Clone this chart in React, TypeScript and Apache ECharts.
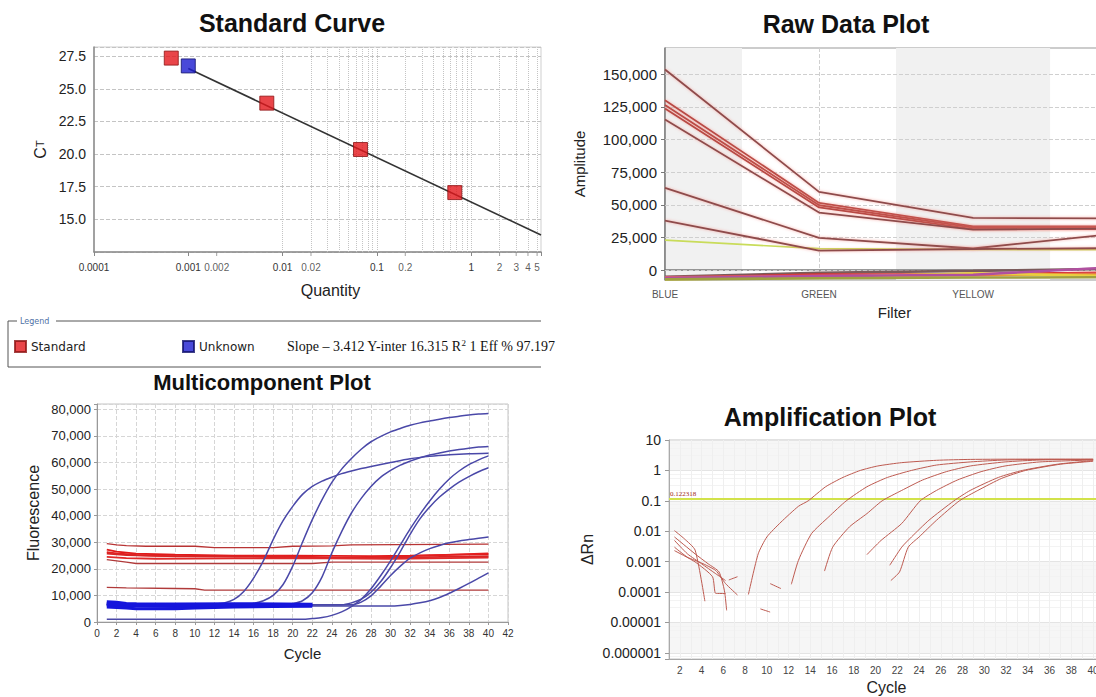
import React, { useEffect, useRef } from 'react';
import * as echarts from 'echarts';

const SANS = "'Liberation Sans', Arial, sans-serif";

// ---------- Standard Curve ----------
const STD_QUANTITY = [0.00066, 0.0068, 0.067, 0.67];
const STD_CT = [27.35, 23.9, 20.35, 17.05];
const UNK_QUANTITY = [0.001];
const UNK_CT = [26.75];
const FIT_QUANTITY = [0.001, 5.5];
const FIT_CT = [26.55, 13.8];
const CT_TICKS = [15, 17.5, 20, 22.5, 25, 27.5];
const QTY_DECADE_TICKS = [0.0001, 0.001, 0.01, 0.1, 1];
const QTY_DECADE_LABELS = ['0.0001', '0.001', '0.01', '0.1', '1'];
const QTY_EXTRA_TICKS = [0.002, 0.02, 0.2, 2, 3, 4, 5];
const QTY_EXTRA_LABELS = ['0.002', '0.02', '0.2', '2', '3', '4', '5'];
const QTY_GRID_MULTIPLIERS = [1, 2, 3, 4, 5, 6, 7, 8, 9];
const STAT_SLOPE = '– 3.412';
const STAT_YINTER = '16.315';
const STAT_R2 = '1';
const STAT_EFF = '97.197';

// ---------- Raw Data Plot ----------
const FILTERS = ['BLUE', 'GREEN', 'YELLOW'];
const RAW_X = [0, 1, 2, 2.85];
const RAW_Y_TICKS = [0, 25000, 50000, 75000, 100000, 125000, 150000];
const RAW_MAIN = [
  [153600, 59900, 40000, 39600],
  [130000, 51500, 33500, 33500],
  [126300, 49700, 32600, 32500],
  [123700, 48000, 31400, 31400],
  [115300, 44100, 31000, 31800],
  [63000, 24700, 16600, 27000],
  [38000, 15000, 16200, 16800],
];
const RAW_YELLOWGREEN = [23000, 16500, 15800, 15600];
const RAW_LOW = [
  [-5000, -2000, -500, 1000],
  [-6000, -3300, -3200, -2000],
  [-5500, -4200, -3800, -2600],
  [-6500, -5000, -3000, -3500],
  [-6800, -5600, -2400, -4400],
  [-6000, -4500, -3500, 1800],
  [-7000, -6200, -5600, -5400],
];
const RAW_LOW_COLORS = ['#7a5a5a', '#d83030', '#e06060', '#e89030', '#e8d040', '#b050a0', '#a0a040'];

// ---------- Multicomponent Plot ----------
const MC_X_TICKS_MAX = 42;
const ROX_WELLS = [
  [[1, 29500], [2, 29000], [3, 28700], [5, 28500], [10, 28500], [12, 28000], [18, 28000], [20, 28500], [24, 28600], [26, 29000], [40, 29300]],
  [[1, 27200], [2, 26500], [4, 25700], [8, 25300], [14, 25000], [20, 25000], [28, 24800], [32, 25000], [40, 25500]],
  [[1, 26300], [2, 25800], [4, 25200], [8, 24700], [14, 24600], [18, 24900], [22, 24500], [24, 24200], [27, 24300], [32, 24800], [40, 25800]],
  [[1, 25700], [3, 25200], [6, 24900], [12, 24700], [18, 24400], [22, 24200], [28, 24000], [32, 24300], [40, 24800]],
  [[1, 24500], [3, 24000], [6, 23800], [14, 23900], [20, 24000], [30, 23800], [40, 24200]],
  [[1, 23500], [2, 23000], [3, 22500], [4, 22000], [12, 22000], [22, 22000], [24, 22500], [40, 22500]],
  [[1, 13000], [3, 12800], [8, 12600], [10, 12500], [11, 12000], [40, 12000]],
];
const ROX_COLORS = ['#b83434', '#e01a1a', '#e42020', '#d82424', '#e02a2a', '#b03a3a', '#b03a3a'];
const FAM_CURVES = [
  [[1, 7000], [5, 6700], [10, 6600], [12, 6800], [13, 7200], [14, 8500], [15, 11500], [16, 16500], [17, 23000], [18, 31000], [19, 38000], [20, 43500], [21, 48000], [22, 51000], [23, 53000], [24, 54500], [25, 55800], [26, 56800], [27, 57700], [28, 58500], [30, 60000], [32, 61400], [34, 62300], [36, 62900], [38, 63300], [40, 63500]],
  [[1, 6800], [8, 6500], [15, 6600], [16, 7000], [17, 8000], [18, 10000], [19, 14000], [20, 21000], [21, 30000], [22, 38500], [23, 46000], [24, 52500], [25, 57500], [26, 61500], [27, 65000], [28, 67800], [29, 69800], [30, 71500], [31, 72800], [32, 74000], [33, 74900], [34, 75600], [35, 76300], [36, 76900], [37, 77400], [38, 77900], [39, 78200], [40, 78400]],
  [[1, 6500], [10, 6300], [19, 6400], [20, 6900], [21, 8000], [22, 11000], [23, 17000], [24, 26000], [25, 34000], [26, 41000], [27, 46500], [28, 51000], [29, 54500], [30, 57000], [31, 59000], [32, 60500], [33, 61800], [34, 62800], [35, 63600], [36, 64300], [37, 64900], [38, 65400], [39, 65800], [40, 66000]],
  [[1, 1000], [21, 1000], [22, 1300], [23, 1700], [24, 2500], [25, 3800], [26, 5800], [27, 8500], [28, 12500], [29, 17500], [30, 23000], [31, 29000], [32, 35000], [33, 40500], [34, 45500], [35, 50000], [36, 53800], [37, 56800], [38, 59200], [39, 61000], [40, 62500]],
  [[1, 6600], [12, 6400], [25, 6500], [26, 7200], [27, 8600], [28, 11200], [29, 15200], [30, 20500], [31, 26500], [32, 33000], [33, 38800], [34, 43300], [35, 47000], [36, 50000], [37, 52600], [38, 54700], [39, 56500], [40, 58000]],
  [[1, 6500], [26, 6500], [27, 7500], [28, 9800], [29, 13500], [30, 17500], [31, 21000], [32, 24000], [33, 26000], [34, 27600], [35, 28800], [36, 29800], [37, 30500], [38, 31000], [39, 31500], [40, 32000]],
  [[1, 6200], [30, 6000], [31, 6200], [32, 6600], [33, 7200], [34, 8000], [35, 9200], [36, 10800], [37, 12600], [38, 14500], [39, 16500], [40, 18500]],
];
const FAM_BASELINE_BAND = [
  [[1, 7600], [2, 7400], [3, 7000], [4, 6900], [8, 6800], [14, 6900], [22, 6700]],
  [[1, 5600], [3, 5300], [4, 5000], [8, 5000], [10, 5300], [14, 5600], [18, 5800], [22, 5900]],
  [[1, 6400], [4, 6000], [8, 5800], [12, 6100], [18, 6200], [22, 6300]],
  [[1, 7000], [4, 6400], [10, 6300], [16, 6500], [22, 6500]],
];

// ---------- Amplification Plot ----------
const AMP_Y_TICKS = [10, 1, 0.1, 0.01, 0.001, 0.0001, 0.00001, 0.000001];
const AMP_Y_LABELS = ['10', '1', '0.1', '0.01', '0.001', '0.0001', '0.00001', '0.000001'];
const AMP_THRESHOLD = 0.122318;
const AMP_CURVES = [
  [[8.3, 0.000083], [9.2, 0.0018], [10, 0.0065], [11.3, 0.02], [12.9, 0.066], [13.8, 0.1], [15.4, 0.29], [17, 0.59], [18.6, 1.0], [20.2, 1.4], [22.4, 1.8], [25.6, 2.15], [28.7, 2.3], [34, 2.35], [40, 2.35]],
  [[12.25, 0.00018], [12.9, 0.0011], [14.1, 0.0083], [15.7, 0.03], [17.3, 0.1], [19.2, 0.29], [21.1, 0.59], [23.3, 1.0], [25.6, 1.5], [28.7, 1.9], [31.9, 2.2], [36, 2.3], [40, 2.3]],
  [[15.3, 0.00049], [16.05, 0.003], [17.6, 0.014], [19.2, 0.038], [20.6, 0.1], [22.4, 0.22], [24.3, 0.48], [26.5, 0.91], [28.7, 1.4], [31.9, 1.9], [35.1, 2.2], [40, 2.3]],
  [[19.2, 0.0017], [20.5, 0.005], [22.4, 0.018], [24.1, 0.1], [25.6, 0.22], [27.5, 0.48], [29.7, 0.91], [31.9, 1.4], [35.1, 1.9], [40, 2.2]],
  [[21.3, 0.00076], [22.4, 0.003], [23.3, 0.0065], [24.9, 0.023], [27.2, 0.1], [28.7, 0.22], [31.3, 0.59], [33.5, 1.0], [36.7, 1.6], [40, 2.1]],
  [[21.4, 0.00024], [22.2, 0.00046], [23.0, 0.003], [24, 0.0065], [25.6, 0.023], [27.7, 0.1], [29.4, 0.22], [31.6, 0.55], [33.8, 1.0], [37, 1.6], [40, 2.0]],
];
const AMP_NOISE = [
  [[1.5, 0.0105], [2.4, 0.0057], [3.4, 0.0024], [4.3, 0.00005]],
  [[1.5, 0.0065], [3.4, 0.0018], [4.6, 0.00085], [5.6, 0.00046], [6.1, 0.00011], [6.3, 0.000025]],
  [[1.5, 0.005], [2.7, 0.0018], [4.0, 0.00085], [5.3, 0.0004], [6.2, 0.00024]],
  [[6.5, 0.00025], [7.3, 0.00032]],
  [[1.5, 0.003], [2.7, 0.0014], [4.0, 0.0009], [5.3, 0.00051], [6.2, 0.00019], [7.3, 0.00008]],
  [[1.5, 0.0023], [3.4, 0.00098], [5.0, 0.00032], [5.3, 0.00009], [6.2, 0.00009]],
  [[9.4, 0.000028], [10.3, 0.000022]],
  [[10.3, 0.00019], [11.3, 0.00013]],
];

function logLookup(v: number, ticks: number[], labels: string[]) {
  for (let i = 0; i < ticks.length; i++) {
    if (Math.abs(Math.log10(v) - Math.log10(ticks[i])) < 0.01) return labels[i];
  }
  return '';
}

function buildOption(): any {
  const qtyGridLines: any[] = [];
  QTY_DECADE_TICKS.forEach((d) => QTY_GRID_MULTIPLIERS.forEach((m) => qtyGridLines.push({ xAxis: d * m })));

  const series: any[] = [];

  // ---- Standard curve ----
  series.push({
    name: 'qtyTicks', type: 'scatter', xAxisIndex: 0, yAxisIndex: 0, silent: true, clip: false,
    data: QTY_EXTRA_TICKS.map((q) => [q, 12.5]),
    symbol: 'rect', symbolSize: [1, 4], symbolOffset: [0, 2],
    itemStyle: { color: '#888' },
    label: { show: true, position: 'bottom', distance: 6, fontSize: 10, fontFamily: SANS, color: '#333',
      formatter: (p: any) => QTY_EXTRA_LABELS[p.dataIndex] },
    markLine: { silent: true, z: 1, symbol: ['none', 'none'], label: { show: false },
      lineStyle: { type: 'dotted', color: '#c4c4c4', width: 1 }, data: qtyGridLines },
    z: 3,
  });
  series.push({
    name: 'Fit', type: 'line', xAxisIndex: 0, yAxisIndex: 0, silent: true, symbol: 'none',
    data: FIT_QUANTITY.map((q, i) => [q, FIT_CT[i]]),
    lineStyle: { color: '#333', width: 1.6 }, z: 4,
  });
  series.push({
    name: 'Standard', type: 'scatter', xAxisIndex: 0, yAxisIndex: 0, symbol: 'rect', symbolSize: 14,
    data: STD_QUANTITY.map((q, i) => [q, STD_CT[i]]),
    itemStyle: { color: '#e3161c', borderColor: '#8c1414', borderWidth: 1 }, z: 5,
  });
  series.push({
    name: 'Unknown', type: 'scatter', xAxisIndex: 0, yAxisIndex: 0, symbol: 'rect', symbolSize: 14,
    data: UNK_QUANTITY.map((q, i) => [q, UNK_CT[i]]),
    itemStyle: { color: '#1c1cd0', borderColor: '#10106a', borderWidth: 1 }, z: 6,
  });

  // ---- Raw data ----
  series.push({
    name: 'rawBands', type: 'line', xAxisIndex: 1, yAxisIndex: 1, silent: true, symbol: 'none',
    data: [],
    markArea: { silent: true, z: 0, itemStyle: { color: '#f1f1f1' },
      data: [[{ xAxis: 0 }, { xAxis: 0.5 }], [{ xAxis: 1.5 }, { xAxis: 2.5 }]] },
  });
  series.push({
    name: 'rawGrid', type: 'line', xAxisIndex: 1, yAxisIndex: 1, silent: true, symbol: 'none',
    data: [],
    markLine: { silent: true, z: 2, symbol: ['none', 'none'], label: { show: false },
      lineStyle: { type: 'dashed', color: '#cfcfcf', width: 1 }, data: RAW_Y_TICKS.map((v) => ({ yAxis: v })) },
  });
  RAW_LOW.forEach((vals, k) => series.push({
    type: 'line', xAxisIndex: 1, yAxisIndex: 1, silent: true, symbol: 'none',
    data: RAW_X.map((x, i) => [x, vals[i]]), lineStyle: { color: RAW_LOW_COLORS[k], width: 2.6 }, z: 3,
  }));
  series.push({
    type: 'line', xAxisIndex: 1, yAxisIndex: 1, silent: true, symbol: 'none',
    data: RAW_X.map((x, i) => [x, RAW_YELLOWGREEN[i]]), lineStyle: { color: '#c9dc5a', width: 1.6 }, z: 3,
  });
  RAW_MAIN.forEach((vals, k) => series.push({
    type: 'line', xAxisIndex: 1, yAxisIndex: 1, silent: true, symbol: 'none',
    data: RAW_X.map((x, i) => [x, vals[i]]),
    lineStyle: { color: k >= 1 && k <= 3 ? '#b84a44' : '#8e4c4c', width: 1.8,
      shadowColor: 'rgba(240,120,110,0.6)', shadowBlur: 3 }, z: 4,
  }));

  // ---- Multicomponent ----
  ROX_WELLS.forEach((d, k) => series.push({
    type: 'line', xAxisIndex: 2, yAxisIndex: 2, silent: true, symbol: 'none', data: d,
    lineStyle: { color: ROX_COLORS[k], width: k >= 1 && k <= 4 ? 1.8 : 1.3 }, z: 3,
  }));
  FAM_CURVES.forEach((d) => series.push({
    type: 'line', xAxisIndex: 2, yAxisIndex: 2, silent: true, symbol: 'none', data: d, smooth: 0.3,
    lineStyle: { color: '#4a48a8', width: 1.5 }, z: 4,
  }));
  FAM_BASELINE_BAND.forEach((d) => series.push({
    type: 'line', xAxisIndex: 2, yAxisIndex: 2, silent: true, symbol: 'none', data: d,
    lineStyle: { color: '#1616dc', width: 3 }, z: 5,
  }));

  // ---- Amplification ----
  series.push({
    name: 'threshold', type: 'line', xAxisIndex: 3, yAxisIndex: 3, silent: true, symbol: 'none', data: [],
    markLine: { silent: true, symbol: ['none', 'none'], z: 3,
      lineStyle: { type: 'solid', color: '#d2e24a', width: 2 },
      label: { show: true, position: 'insideStartTop', distance: 1, fontSize: 7, color: '#a02a20', fontFamily: "'Liberation Serif', serif",
        formatter: () => String(AMP_THRESHOLD) },
      data: [{ yAxis: AMP_THRESHOLD }] },
  });
  AMP_NOISE.concat(AMP_CURVES).forEach((d) => series.push({
    type: 'line', xAxisIndex: 3, yAxisIndex: 3, silent: true, symbol: 'none', data: d, smooth: 0.2,
    lineStyle: { color: '#bd5a50', width: 1 }, z: 4,
  }));

  const axisLineGray = (c: string, w = 1) => ({ show: true, lineStyle: { color: c, width: w } });

  return {
    animation: false,
    backgroundColor: '#ffffff',
    textStyle: { fontFamily: SANS },
    title: [
      { text: 'Standard Curve', left: 292, top: 10, textAlign: 'center', padding: 0, textStyle: { fontSize: 25, fontWeight: 'bold', color: '#111', fontFamily: SANS } },
      { text: 'Raw Data Plot', left: 846, top: 11, textAlign: 'center', padding: 0, textStyle: { fontSize: 25, fontWeight: 'bold', color: '#111', fontFamily: SANS } },
      { text: 'Multicomponent Plot', left: 262, top: 371, textAlign: 'center', padding: 0, textStyle: { fontSize: 22, fontWeight: 'bold', color: '#111', fontFamily: SANS } },
      { text: 'Amplification Plot', left: 830, top: 404, textAlign: 'center', padding: 0, textStyle: { fontSize: 25, fontWeight: 'bold', color: '#111', fontFamily: SANS } },
    ],
    legend: [
      { data: [{ name: 'Standard', icon: 'rect' }], left: 14, top: 340, padding: 0, itemWidth: 11, itemHeight: 11, itemGap: 8,
        selectedMode: false, textStyle: { fontSize: 12, fontFamily: "'DejaVu Sans', sans-serif", color: '#222' } },
      { data: [{ name: 'Unknown', icon: 'rect' }], left: 182, top: 340, padding: 0, itemWidth: 11, itemHeight: 11, itemGap: 8,
        selectedMode: false, textStyle: { fontSize: 12, fontFamily: "'DejaVu Sans', sans-serif", color: '#222' } },
    ],
    graphic: [
      { type: 'line', silent: true, shape: { x1: 8, y1: 321, x2: 17, y2: 321 }, style: { stroke: '#555', lineWidth: 1 } },
      { type: 'text', silent: true, x: 20, y: 321, style: { text: 'Legend', fontSize: 8, fontFamily: "'DejaVu Sans', sans-serif", fill: '#4f72a6', verticalAlign: 'middle' } },
      { type: 'line', silent: true, shape: { x1: 56, y1: 321, x2: 541, y2: 321 }, style: { stroke: '#555', lineWidth: 1 } },
      { type: 'line', silent: true, shape: { x1: 8, y1: 321, x2: 8, y2: 367 }, style: { stroke: '#555', lineWidth: 1 } },
      { type: 'line', silent: true, shape: { x1: 8, y1: 367, x2: 541, y2: 367 }, style: { stroke: '#555', lineWidth: 1 } },
      { type: 'text', silent: true, x: 287, y: 346, style: {
        text: `Slope ${STAT_SLOPE} Y-inter ${STAT_YINTER} R{sup|2} ${STAT_R2} Eff % ${STAT_EFF}`,
        fontSize: 14, fontFamily: "'Liberation Serif', serif", fill: '#111', verticalAlign: 'middle',
        rich: { sup: { fontSize: 9, fontFamily: "'Liberation Serif', serif", fill: '#111', verticalAlign: 'top', padding: [0, 0, 7, 0] } } } },
    ],
    grid: [
      { left: 94, top: 47, width: 447, height: 205, show: true, borderColor: '#cfcfcf', borderWidth: 1, containLabel: false, outerBoundsMode: 'none' },
      { left: 665, top: 48, width: 439, height: 232, show: true, borderColor: '#999', borderWidth: 1, containLabel: false, outerBoundsMode: 'none' },
      { left: 97, top: 404, width: 411, height: 218, show: true, borderColor: '#c4c4c4', borderWidth: 1, containLabel: false, outerBoundsMode: 'none' },
      { left: 669, top: 440, width: 435, height: 219, show: true, borderColor: '#c4c4c4', borderWidth: 1, containLabel: false, outerBoundsMode: 'none',
        backgroundColor: '#fff' },
    ],
    xAxis: [
      { gridIndex: 0, type: 'log', logBase: 10, min: 0.0001, max: 5.5,
        name: 'Quantity', nameLocation: 'middle', nameGap: 30,
        nameTextStyle: { fontSize: 16, color: '#222', fontFamily: SANS, padding: [0, 0, 0, 26] },
        axisLine: axisLineGray('#8a8a8a', 1.5), axisTick: { show: true, length: 4, lineStyle: { color: '#888' } },
        axisLabel: { fontSize: 10, color: '#333', margin: 10, formatter: (v: number) => logLookup(v, QTY_DECADE_TICKS, QTY_DECADE_LABELS) },
        splitLine: { show: false }, minorTick: { show: false } },
      { gridIndex: 1, type: 'value', min: 0, max: 2.85, interval: 1,
        name: 'Filter', nameLocation: 'middle', nameGap: 25,
        nameTextStyle: { fontSize: 15, color: '#222', fontFamily: SANS, padding: [0, 0, 0, 20] },
        axisLine: axisLineGray('#777', 1.5), axisTick: { show: false },
        axisLabel: { fontSize: 10, color: '#555', margin: 9, formatter: (v: number) => FILTERS[v] ?? '' },
        splitLine: { show: true, lineStyle: { type: 'dashed', color: '#d0d0d0' } } },
      { gridIndex: 2, type: 'value', min: 0, max: MC_X_TICKS_MAX, interval: 2,
        name: 'Cycle', nameLocation: 'middle', nameGap: 24,
        nameTextStyle: { fontSize: 15, color: '#222', fontFamily: SANS },
        axisLine: axisLineGray('#999', 1), axisTick: { show: true, length: 3, lineStyle: { color: '#999' } },
        axisLabel: { fontSize: 10, color: '#333', margin: 6 },
        splitLine: { show: true, lineStyle: { type: 'dashed', color: '#d6d6d6' } } },
      { gridIndex: 3, type: 'value', min: 1, max: 41, interval: 1,
        name: 'Cycle', nameLocation: 'middle', nameGap: 20,
        nameTextStyle: { fontSize: 16, color: '#222', fontFamily: SANS },
        axisLine: axisLineGray('#aaa', 1), axisTick: { show: false },
        axisLabel: { fontSize: 10, color: '#444', margin: 6, formatter: (v: number) => (v % 2 === 0 && v <= 40 ? String(v) : '') },
        splitLine: { show: true, lineStyle: { color: '#efefef' } } },
    ],
    yAxis: [
      { gridIndex: 0, type: 'value', min: 12.5, max: 28.2, interval: 2.5,
        name: '{c|C}{t|T}', nameLocation: 'middle', nameGap: 46, nameRotate: 90,
        nameTextStyle: { rich: { c: { fontSize: 16, color: '#222', fontFamily: SANS }, t: { fontSize: 11, color: '#222', fontFamily: SANS } } },
        axisLine: axisLineGray('#8a8a8a', 1.5), axisTick: { show: false },
        axisLabel: { fontSize: 14, color: '#222', margin: 8,
          formatter: (v: number) => (CT_TICKS.some((t) => Math.abs(t - v) < 1e-6) ? v.toFixed(1) : '') },
        splitLine: { show: true, lineStyle: { type: 'dashed', color: '#c4c4c4' } } },
      { gridIndex: 1, type: 'value', min: -7500, max: 170000,
        name: 'Amplitude', nameLocation: 'middle', nameGap: 78, nameRotate: 90,
        nameTextStyle: { fontSize: 15, color: '#222', fontFamily: SANS },
        axisLine: axisLineGray('#777', 1.5),
        axisTick: { show: true, length: 4, customValues: RAW_Y_TICKS, lineStyle: { color: '#777' } },
        axisLabel: { fontSize: 15, color: '#222', margin: 8, customValues: RAW_Y_TICKS,
          formatter: (v: number) => (RAW_Y_TICKS.includes(v) ? v.toLocaleString('en-US') : '') },
        splitLine: { show: false } },
      { gridIndex: 2, type: 'value', min: 0, max: 82000, interval: 10000,
        name: 'Fluorescence', nameLocation: 'middle', nameGap: 56, nameRotate: 90,
        nameTextStyle: { fontSize: 16, color: '#222', fontFamily: SANS },
        axisLine: axisLineGray('#999', 1), axisTick: { show: true, length: 3, lineStyle: { color: '#999' } },
        axisLabel: { fontSize: 13, color: '#222', margin: 6,
          formatter: (v: number) => (v % 10000 === 0 ? v.toLocaleString('en-US') : '') },
        splitLine: { show: true, lineStyle: { type: 'dashed', color: '#d6d6d6' } } },
      { gridIndex: 3, type: 'log', logBase: 10, min: 0.00000063, max: 10,
        name: 'ΔRn', nameLocation: 'middle', nameGap: 74, nameRotate: 90,
        nameTextStyle: { fontSize: 16, color: '#222', fontFamily: SANS },
        axisLine: axisLineGray('#aaa', 1), axisTick: { show: true, length: 4, lineStyle: { color: '#999' } },
        axisLabel: { fontSize: 14, color: '#222', margin: 8, formatter: (v: number) => logLookup(v, AMP_Y_TICKS, AMP_Y_LABELS) },
        splitLine: { show: true, lineStyle: { color: '#e4e4e4' } },
        minorTick: { show: false, splitNumber: 4 },
        minorSplitLine: { show: true, lineStyle: { color: '#f3f3f3' } },
        splitArea: { show: true, areaStyle: { color: ['rgba(0,0,0,0)', 'rgba(235,235,235,0.45)'] } } },
    ],
    series,
  };
}

export default function App() {
  const ref = useRef<HTMLDivElement>(null);
  useEffect(() => {
    const chart = echarts.init(ref.current as HTMLDivElement, null, { renderer: 'svg' });
    chart.setOption(buildOption());
    return () => chart.dispose();
  }, []);
  return (
    <div
      ref={ref}
      style={{ position: 'fixed', left: 0, top: 0, width: 1096, height: 697, background: '#fff' }}
    />
  );
}
